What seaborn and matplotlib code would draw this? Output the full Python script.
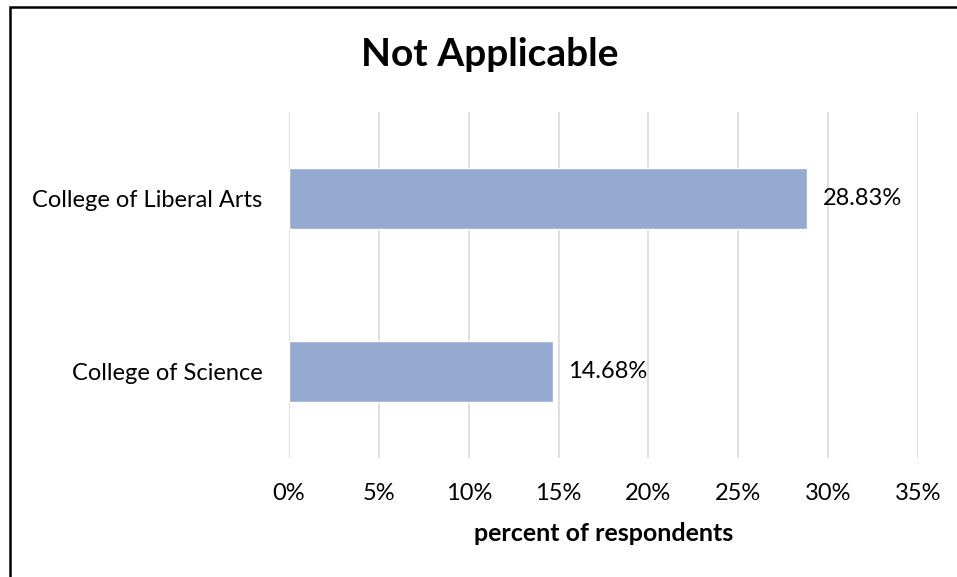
import matplotlib
matplotlib.use("Agg")
import matplotlib.pyplot as plt
from matplotlib.patches import Rectangle
from matplotlib.ticker import FuncFormatter, MultipleLocator
import pandas as pd
import seaborn as sns

# Survey results: share of respondents answering "Not Applicable"
colleges = ["College of Liberal Arts", "College of Science"]
percent = [28.83, 14.68]
x_ticks = [0, 5, 10, 15, 20, 25, 30, 35]

title = "Not Applicable"
x_label = "percent of respondents"

df = pd.DataFrame({"college": colleges, "percent": percent})

sns.set_theme(style="white")
plt.rcParams["font.family"] = ["Lato", "DejaVu Sans"]

fig = plt.figure(figsize=(9.57, 5.77), dpi=100)
ax = fig.add_axes([289 / 957, 1 - 458 / 577, (918 - 289) / 957, (458 - 112) / 577])

sns.barplot(data=df, x="percent", y="college", orient="h", color="#95A9D1",
            saturation=1, width=0.353, ax=ax)

ax.set_xlim(x_ticks[0], x_ticks[-1])
ax.set_ylim(1.5, -0.5)
ax.xaxis.set_major_locator(MultipleLocator(5))
ax.xaxis.set_major_formatter(FuncFormatter(lambda v, _: f"{v:.0f}%"))
ax.grid(axis="x", color="#D9D9D9", linewidth=1.2)
ax.set_axisbelow(True)
for s in ax.spines.values():
    s.set_visible(False)

ax.tick_params(axis="x", length=0, pad=18, labelsize=17, labelcolor="black")
ax.tick_params(axis="y", length=0, pad=19, labelsize=17, labelcolor="black")
ax.set_ylabel("")
ax.set_xlabel(x_label, fontsize=18, fontweight="bold", labelpad=13, color="black")

ax.bar_label(ax.containers[0], labels=[f"{v:.2f}%" for v in percent],
             padding=11, fontsize=17, color="black")

fig.text(490 / 957, 1 - 55 / 577, title, ha="center", va="center",
         fontsize=28, fontweight="bold", color="black")

# chart frame
fig.patches.append(Rectangle((10 / 957, -0.1), 1.2, (1 - 7 / 577) + 0.1,
                             transform=fig.transFigure, fill=False,
                             edgecolor="black", linewidth=1.8))

fig.savefig("out.png", dpi=100)
